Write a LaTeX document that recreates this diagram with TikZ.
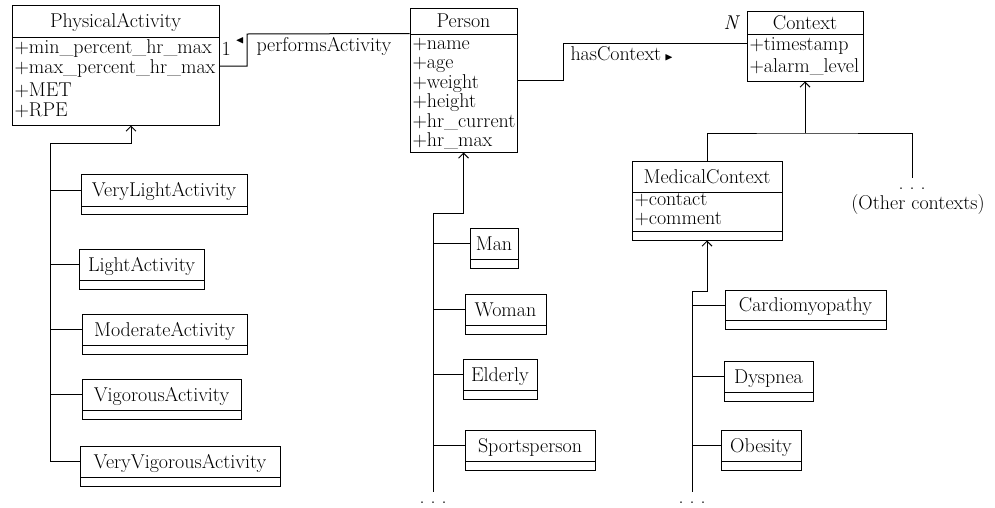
\documentclass[tikz,border=0pt]{standalone}
\usepackage{amssymb}
\usetikzlibrary{arrows.meta,fit,calc}
\newcommand\umlcls[7]{%
  \node[cls, fit={(#2,#3) (#4,#6)}] (#1) {};
  \draw (#2,#5) -- (#4,#5);
  \coordinate (#1-h) at (#2,{(#3+#5)/2});
  \node[ttl] at ({(#2+#4)/2},{(#3+#5)/2+6.5}) {#7};
}
\newcommand\mydots{.\hspace{0.3em}.\hspace{0.3em}.}
\begin{document}
\begin{tikzpicture}[x=1pt,y=-1pt, line width=1pt,
  every node/.style={font=\fontsize{20}{21}\selectfont, inner sep=0pt},
  cls/.style={draw, line width=1pt, inner sep=0pt},
  ttl/.style={anchor=base},
  att/.style={anchor=base west},
  lbl/.style={anchor=base west},
  dots/.style={inner xsep=0pt, inner ysep=9pt},
  inh/.style={line width=1pt, -{Straight Barb[length=5pt,width=10pt]}},
]
\useasboundingbox (0,0) rectangle (995,507);

% ---------- main classes
\umlcls{pa}{12}{5}{219}{37}{125}{PhysicalActivity}
\node[att] at (14,53) {+min\_percent\_hr\_max};
\node[att] at (14,73) {+max\_percent\_hr\_max};
\node[att] at (14,96) {+MET};
\node[att] at (14,116) {+RPE};

\umlcls{person}{410}{8}{517}{34}{152}{Person}
\node[att] at (412,49) {+name};
\node[att] at (412,68.5) {+age};
\node[att] at (412,88) {+weight};
\node[att] at (412,107.5) {+height};
\node[att] at (412,127) {+hr\_current};
\node[att] at (412,146.5) {+hr\_max};

\umlcls{context}{747}{11}{863}{34}{81}{Context}
\node[att] at (749,50) {+timestamp};
\node[att] at (749,72) {+alarm\_level};

\umlcls{medical}{632}{161}{782}{192}{240}{MedicalContext}
\draw (632,231) -- (782,231);
\node[att] at (634,205.5) {+contact};
\node[att] at (634,224.5) {+comment};

% ---------- activity subclasses
\umlcls{vla}{81}{174}{247}{206}{214}{VeryLightActivity}
\umlcls{la}{79}{249}{204}{280}{289}{LightActivity}
\umlcls{ma}{82}{314}{247}{345}{354}{ModerateActivity}
\umlcls{va}{82}{379}{241}{410}{419}{VigorousActivity}
\umlcls{vva}{80}{446}{280}{477}{486}{VeryVigorousActivity}

% ---------- person subclasses
\umlcls{man}{470}{228}{518}{259}{268}{Man}
\umlcls{woman}{465}{294}{546}{325}{334}{Woman}
\umlcls{elderly}{463}{359}{537}{390}{399}{Elderly}
\umlcls{sport}{465}{430}{595}{461}{470}{Sportsperson}

% ---------- medical subclasses
\umlcls{cardio}{725}{290}{886}{320}{329}{Cardiomyopathy}
\umlcls{dysp}{724}{361}{813}{392}{401}{Dyspnea}
\umlcls{obes}{721}{430}{801}{461}{470}{Obesity}

% ---------- associations
\draw ([yshift=-26pt]person.north west) -- (247,34) -- (247,66) -- (pa.east |- 0,66);
\node[lbl] at (221,55) {1};
\node[anchor=center, font=\fontsize{11}{11}\selectfont] at (240,41) {$\blacktriangleleft$};
\node[lbl] at (256,51) {performsActivity};

\draw (person.east |- 0,80) -- (563,80) -- (563,43) -- (context.west |- 0,43);
\node[lbl] at (570,60) {hasContext\,{\fontsize{11}{11}\selectfont$\blacktriangleright$}};
\node[lbl] at (723,29) {\itshape N};

% ---------- inheritance: activity
\coordinate (pat) at (50,143);
\draw[inh] (vva-h) -- (vva-h -| pat) -- (pat) -- ([xshift=15.5pt]pat -| pa.south) -- ([xshift=15.5pt]pa.south);
\foreach \c in {vla,la,ma,va} \draw (\c-h) -- (\c-h -| pat);

% ---------- inheritance: person
\node[dots, anchor=base] (pdots) at (433,503) {\mydots};
\coordinate (pt) at (433,213);
\draw[inh] (pdots.north) -- (pt) -- (pt -| person.south) -- (person.south);
\foreach \c in {man,woman,elderly,sport} \draw (\c-h) -- (\c-h -| pt);

% ---------- inheritance: medical
\node[dots, anchor=base] (mdots) at (692,503) {\mydots};
\coordinate (mt) at (692,291);
\draw[inh] (mdots.north) -- (mt) -- (mt -| medical.south) -- (medical.south);
\foreach \c in {cardio,dysp,obes} \draw (\c-h) -- (\c-h -| mt);

% ---------- inheritance: context
\node[dots, anchor=base] (odots) at (912,189) {\mydots};
\node[anchor=base] at (918,209) {(Other contexts)};
\coordinate (ct) at (805,133);
\draw (medical.north) |- (ct) -| (odots.north);
\draw[inh] (ct) -- (context.south);
\end{tikzpicture}
\end{document}
